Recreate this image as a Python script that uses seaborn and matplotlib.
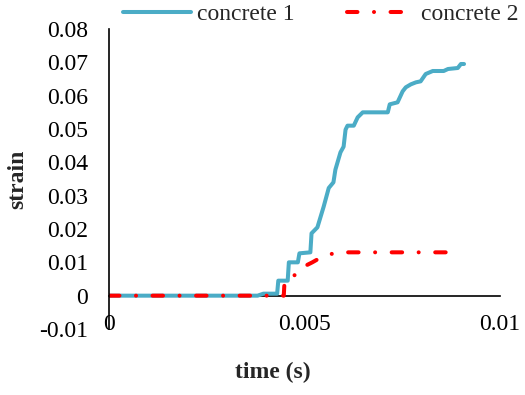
import numpy as np
import pandas as pd
import matplotlib.pyplot as plt
import seaborn as sns

# concrete 1
time_1 = [0.0, 0.0038, 0.00395, 0.0043, 0.00433, 0.00457, 0.0046, 0.00483, 0.00487,
          0.00515, 0.00518, 0.00533, 0.00549, 0.00562, 0.00574, 0.00579, 0.00592,
          0.0060, 0.00605, 0.0061, 0.00626, 0.00636, 0.00649, 0.00713, 0.00718,
          0.00738, 0.00751, 0.00759, 0.00772, 0.00785, 0.00797, 0.0081, 0.00828,
          0.00856, 0.00867, 0.00892, 0.009, 0.00908]
strain_1 = [0.0, 0.0, 0.0006, 0.0006, 0.0045, 0.0045, 0.0100, 0.0100, 0.0127,
            0.0130, 0.0187, 0.0205, 0.0267, 0.0323, 0.0340, 0.0378, 0.0430,
            0.0447, 0.0498, 0.0510, 0.0510, 0.0535, 0.0550, 0.0550, 0.0574,
            0.0580, 0.0613, 0.0625, 0.0634, 0.0640, 0.0643, 0.0665, 0.0674,
            0.0674, 0.0680, 0.0683, 0.0695, 0.0695]

# concrete 2
time_2 = [0.0, 0.00447, 0.00449, 0.00477, 0.00503, 0.0052, 0.0055, 0.00587, 0.0088]
strain_2 = [0.0, 0.0, 0.0045, 0.0063, 0.0090, 0.0100, 0.0120, 0.0130, 0.0130]

x_ticks = [0, 0.005, 0.01]
x_labels = ['0', '0.005', '0.01']
y_ticks = [-0.01, 0, 0.01, 0.02, 0.03, 0.04, 0.05, 0.06, 0.07, 0.08]
y_labels = ['-0.01', '0', '0.01', '0.02', '0.03', '0.04', '0.05', '0.06', '0.07', '0.08']

sns.set_theme(style='white')
plt.rcParams['font.family'] = ['Liberation Serif', 'DejaVu Serif']

df1 = pd.DataFrame({'time': time_1, 'strain': strain_1})
df2 = pd.DataFrame({'time': time_2, 'strain': strain_2})

fig = plt.figure(figsize=(5.25, 3.95), dpi=100)
ax = fig.add_axes([109 / 525, 66 / 395, 391 / 525, 300 / 395])

sns.lineplot(data=df1, x='time', y='strain', ax=ax, color='#4BACC6', lw=2.9,
             sort=False, estimator=None, label='concrete 1')
sns.lineplot(data=df2, x='time', y='strain', ax=ax, color='#FF0000', lw=2.9,
             sort=False, estimator=None, label='concrete 2',
             linestyle=(0, (2.6, 4.1, 0.01, 4.1)), dash_capstyle='round')

ax.set_xlim(0, 0.01)
ax.set_ylim(-0.01, 0.08)
ax.set_xticks(x_ticks)
ax.set_xticklabels(x_labels)
ax.set_yticks(y_ticks)
ax.set_yticklabels(y_labels)
ax.set_xlabel('')
ax.set_ylabel('')

for side in ['top', 'right']:
    ax.spines[side].set_visible(False)
ax.spines['bottom'].set_position(('data', 0))
ax.spines['bottom'].set_zorder(0)
for side in ['left', 'bottom']:
    ax.spines[side].set_color('black')
    ax.spines[side].set_linewidth(1.2)

ax.tick_params(axis='both', length=0, labelsize=17, colors='black')
ax.tick_params(axis='x', pad=13.5)
ax.tick_params(axis='y', pad=15)

handles, labels = ax.get_legend_handles_labels()
ax.get_legend().remove()
fig.legend(handles, labels, loc='upper left', bbox_to_anchor=(123 / 525, 0.99),
           ncol=2, frameon=False, fontsize=17, handlelength=2.9,
           handletextpad=0.25, columnspacing=2.2, borderpad=0, borderaxespad=0)

fig.text(18 / 525, 1 - 179 / 395, 'strain', rotation=90, ha='center', va='center',
         fontsize=17, fontweight='bold')
fig.text(273 / 525, 1 - 372 / 395, 'time (s)', ha='center', va='center',
         fontsize=17, fontweight='bold')

fig.savefig('out.png', dpi=100)
